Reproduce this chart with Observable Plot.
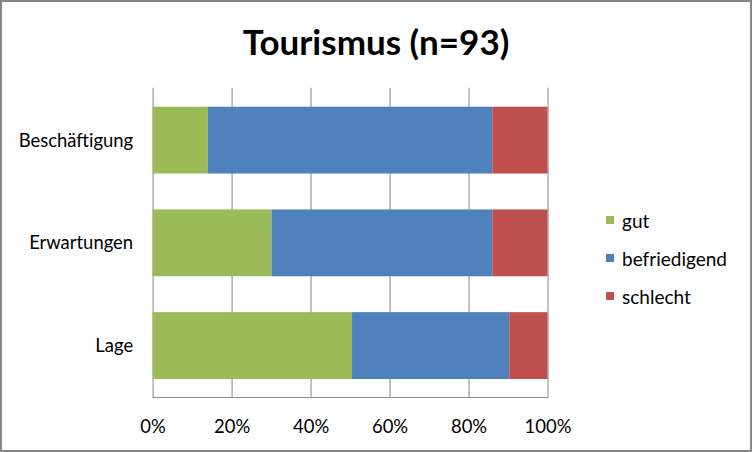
<!DOCTYPE html>
<html>
<head>
<meta charset="utf-8">
<script src="https://cdn.jsdelivr.net/npm/d3@7"></script>
<script src="https://cdn.jsdelivr.net/npm/@observablehq/plot@0.6"></script>
<style>
  html, body { margin: 0; padding: 0; background: #fff; }
  #chart { position: relative; width: 752px; height: 452px; box-sizing: border-box; border: 2px solid #868686; overflow: hidden; font-family: Lato, "Open Sans", sans-serif; }
  #title { position: absolute; left: 0; right: 0; top: 22px; text-align: center; font-size: 35px; font-weight: bold; color: #000; line-height: 1; }
  #plot { position: absolute; left: -2px; top: -2px; }
  #legend { position: absolute; left: 604px; top: 199px; font-size: 19px; color: #000; }
  .item { display: flex; align-items: center; height: 38px; }
  .sw { width: 8px; height: 8px; margin-right: 8px; }
</style>
</head>
<body>
<div id="chart">
  <div id="title">Tourismus (n=93)</div>
  <div id="plot"></div>
  <div id="legend"></div>
</div>
<script>
const categories = ["Beschäftigung", "Erwartungen", "Lage"];
const series = ["gut", "befriedigend", "schlecht"];
const colors = ["#9BBB59", "#4F81BD", "#C0504D"];
const gut = [14.0, 30.1, 50.5];
const befriedigend = [72.0, 55.9, 39.8];
const schlecht = [14.0, 14.0, 9.7];
const xTicks = [0, 0.2, 0.4, 0.6, 0.8, 1.0];

const values = {gut, befriedigend, schlecht};
const data = [];
series.forEach(s => categories.forEach((c, i) => data.push({category: c, series: s, value: values[s][i] / 100})));

const chart = Plot.plot({
  width: 752,
  height: 452,
  marginTop: 88,
  marginBottom: 54,
  marginLeft: 153,
  marginRight: 203,
  style: {fontFamily: "Lato, 'Open Sans', sans-serif", fontSize: "18.5px", color: "#000", background: "transparent"},
  x: {domain: [0, 1], ticks: xTicks, tickFormat: d3.format(".0%"), label: null},
  y: {domain: categories, paddingInner: 0.35, paddingOuter: 0.175, label: null},
  color: {domain: series, range: colors},
  marks: [
    Plot.gridX(xTicks, {stroke: "#868686", strokeOpacity: 1}),
    Plot.barX(data, Plot.stackX({x: "value", y: "category", fill: "series", order: series})),
    Plot.frame({anchor: "bottom", stroke: "#868686"}),
    Plot.axisX({ticks: xTicks, tickFormat: d3.format(".0%"), tickSize: 0, tickPadding: 23, fontSize: 18.5}),
    Plot.axisY({tickSize: 0, tickPadding: 20, fontSize: 18.5})
  ]
});
document.getElementById("plot").appendChild(chart);

const legend = document.getElementById("legend");
series.forEach((s, i) => {
  const item = document.createElement("div");
  item.className = "item";
  const sw = document.createElement("span");
  sw.className = "sw";
  sw.style.background = colors[i];
  const t = document.createElement("span");
  t.textContent = s;
  item.appendChild(sw);
  item.appendChild(t);
  legend.appendChild(item);
});
</script>
</body>
</html>
